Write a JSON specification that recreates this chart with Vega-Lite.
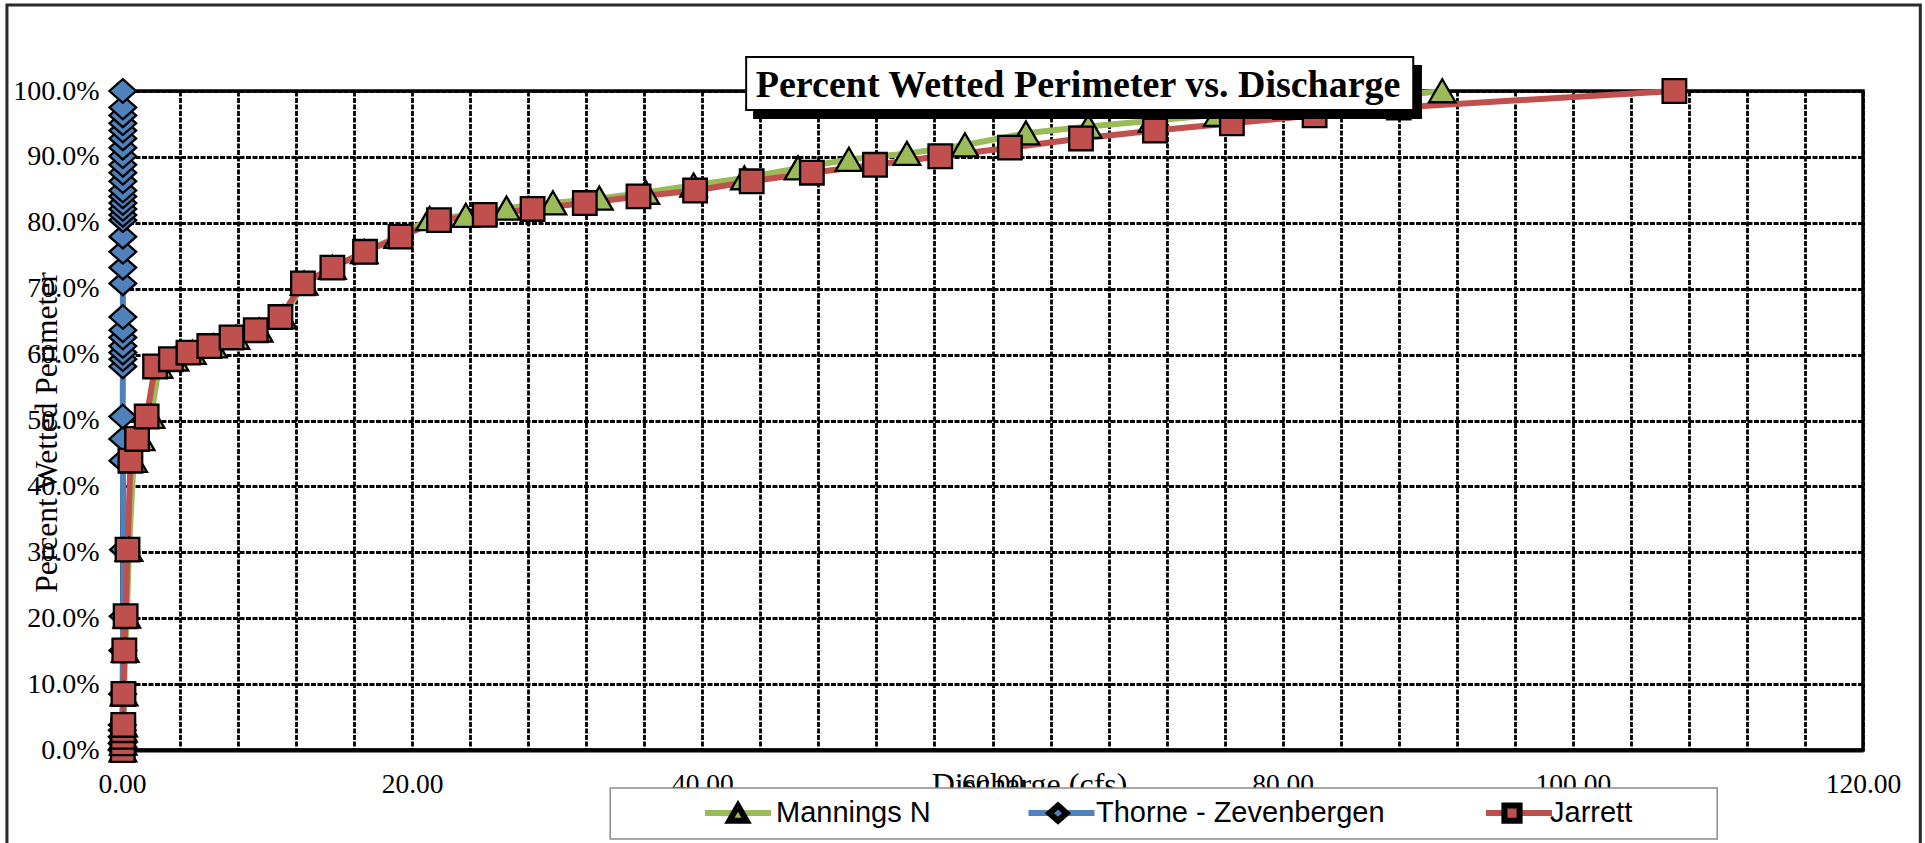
{
  "$schema": "https://vega.github.io/schema/vega-lite/v6.json",
  "width": 1741,
  "height": 659,
  "autosize": "none",
  "padding": {"left": 122, "top": 91, "right": 62, "bottom": 93},
  "background": "white",
  "config": {"view": {"stroke": "black", "strokeWidth": 3.5}, "font": "Liberation Serif"},
  "datasets": {
    "curves": [
      {"series": "Mannings N", "q": 0.06, "p": 0},
      {"series": "Mannings N", "q": 0.08, "p": 0.010},
      {"series": "Mannings N", "q": 0.09, "p": 0.020},
      {"series": "Mannings N", "q": 0.10, "p": 0.030},
      {"series": "Mannings N", "q": 0.11, "p": 0.038},
      {"series": "Mannings N", "q": 0.14, "p": 0.085},
      {"series": "Mannings N", "q": 0.22, "p": 0.151},
      {"series": "Mannings N", "q": 0.33, "p": 0.203},
      {"series": "Mannings N", "q": 0.48, "p": 0.304},
      {"series": "Mannings N", "q": 0.80, "p": 0.439},
      {"series": "Mannings N", "q": 1.32, "p": 0.472},
      {"series": "Mannings N", "q": 2.00, "p": 0.506},
      {"series": "Mannings N", "q": 2.55, "p": 0.582},
      {"series": "Mannings N", "q": 3.65, "p": 0.593},
      {"series": "Mannings N", "q": 4.85, "p": 0.603},
      {"series": "Mannings N", "q": 6.30, "p": 0.613},
      {"series": "Mannings N", "q": 7.85, "p": 0.626},
      {"series": "Mannings N", "q": 9.45, "p": 0.637},
      {"series": "Mannings N", "q": 11.10, "p": 0.657},
      {"series": "Mannings N", "q": 12.55, "p": 0.708},
      {"series": "Mannings N", "q": 14.50, "p": 0.732},
      {"series": "Mannings N", "q": 16.70, "p": 0.756},
      {"series": "Mannings N", "q": 19.00, "p": 0.779},
      {"series": "Mannings N", "q": 21.20, "p": 0.806},
      {"series": "Mannings N", "q": 23.70, "p": 0.811},
      {"series": "Mannings N", "q": 26.50, "p": 0.822},
      {"series": "Mannings N", "q": 29.70, "p": 0.830},
      {"series": "Mannings N", "q": 32.90, "p": 0.837},
      {"series": "Mannings N", "q": 36.10, "p": 0.846},
      {"series": "Mannings N", "q": 39.40, "p": 0.857},
      {"series": "Mannings N", "q": 42.90, "p": 0.868},
      {"series": "Mannings N", "q": 46.60, "p": 0.883},
      {"series": "Mannings N", "q": 50.10, "p": 0.896},
      {"series": "Mannings N", "q": 54.10, "p": 0.905},
      {"series": "Mannings N", "q": 58.10, "p": 0.918},
      {"series": "Mannings N", "q": 62.30, "p": 0.936},
      {"series": "Mannings N", "q": 66.60, "p": 0.946},
      {"series": "Mannings N", "q": 71.00, "p": 0.955},
      {"series": "Mannings N", "q": 75.50, "p": 0.964},
      {"series": "Mannings N", "q": 80.30, "p": 0.975},
      {"series": "Mannings N", "q": 91.00, "p": 1.000},
      {"series": "Thorne - Zevenbergen", "q": 0.00, "p": 0},
      {"series": "Thorne - Zevenbergen", "q": 0.01, "p": 0.010},
      {"series": "Thorne - Zevenbergen", "q": 0.01, "p": 0.020},
      {"series": "Thorne - Zevenbergen", "q": 0.02, "p": 0.030},
      {"series": "Thorne - Zevenbergen", "q": 0.02, "p": 0.038},
      {"series": "Thorne - Zevenbergen", "q": 0.04, "p": 0.085},
      {"series": "Thorne - Zevenbergen", "q": 0.06, "p": 0.151},
      {"series": "Thorne - Zevenbergen", "q": 0.08, "p": 0.203},
      {"series": "Thorne - Zevenbergen", "q": 0.10, "p": 0.304},
      {"series": "Thorne - Zevenbergen", "q": 0.06, "p": 0.439},
      {"series": "Thorne - Zevenbergen", "q": 0.05, "p": 0.472},
      {"series": "Thorne - Zevenbergen", "q": 0.05, "p": 0.506},
      {"series": "Thorne - Zevenbergen", "q": 0.06, "p": 0.582},
      {"series": "Thorne - Zevenbergen", "q": 0.06, "p": 0.593},
      {"series": "Thorne - Zevenbergen", "q": 0.06, "p": 0.603},
      {"series": "Thorne - Zevenbergen", "q": 0.06, "p": 0.613},
      {"series": "Thorne - Zevenbergen", "q": 0.06, "p": 0.626},
      {"series": "Thorne - Zevenbergen", "q": 0.06, "p": 0.637},
      {"series": "Thorne - Zevenbergen", "q": 0.06, "p": 0.657},
      {"series": "Thorne - Zevenbergen", "q": 0.06, "p": 0.708},
      {"series": "Thorne - Zevenbergen", "q": 0.06, "p": 0.732},
      {"series": "Thorne - Zevenbergen", "q": 0.06, "p": 0.756},
      {"series": "Thorne - Zevenbergen", "q": 0.06, "p": 0.779},
      {"series": "Thorne - Zevenbergen", "q": 0.06, "p": 0.804},
      {"series": "Thorne - Zevenbergen", "q": 0.06, "p": 0.812},
      {"series": "Thorne - Zevenbergen", "q": 0.06, "p": 0.821},
      {"series": "Thorne - Zevenbergen", "q": 0.06, "p": 0.830},
      {"series": "Thorne - Zevenbergen", "q": 0.06, "p": 0.840},
      {"series": "Thorne - Zevenbergen", "q": 0.06, "p": 0.849},
      {"series": "Thorne - Zevenbergen", "q": 0.06, "p": 0.863},
      {"series": "Thorne - Zevenbergen", "q": 0.06, "p": 0.876},
      {"series": "Thorne - Zevenbergen", "q": 0.06, "p": 0.888},
      {"series": "Thorne - Zevenbergen", "q": 0.06, "p": 0.901},
      {"series": "Thorne - Zevenbergen", "q": 0.06, "p": 0.914},
      {"series": "Thorne - Zevenbergen", "q": 0.06, "p": 0.928},
      {"series": "Thorne - Zevenbergen", "q": 0.06, "p": 0.940},
      {"series": "Thorne - Zevenbergen", "q": 0.06, "p": 0.951},
      {"series": "Thorne - Zevenbergen", "q": 0.06, "p": 0.963},
      {"series": "Thorne - Zevenbergen", "q": 0.06, "p": 0.975},
      {"series": "Thorne - Zevenbergen", "q": 0.05, "p": 1.000},
      {"series": "Jarrett", "q": 0.05, "p": 0},
      {"series": "Jarrett", "q": 0.06, "p": 0.010},
      {"series": "Jarrett", "q": 0.07, "p": 0.020},
      {"series": "Jarrett", "q": 0.08, "p": 0.030},
      {"series": "Jarrett", "q": 0.09, "p": 0.038},
      {"series": "Jarrett", "q": 0.10, "p": 0.085},
      {"series": "Jarrett", "q": 0.16, "p": 0.151},
      {"series": "Jarrett", "q": 0.25, "p": 0.203},
      {"series": "Jarrett", "q": 0.38, "p": 0.304},
      {"series": "Jarrett", "q": 0.58, "p": 0.439},
      {"series": "Jarrett", "q": 1.04, "p": 0.472},
      {"series": "Jarrett", "q": 1.70, "p": 0.506},
      {"series": "Jarrett", "q": 2.28, "p": 0.582},
      {"series": "Jarrett", "q": 3.37, "p": 0.593},
      {"series": "Jarrett", "q": 4.58, "p": 0.603},
      {"series": "Jarrett", "q": 6.02, "p": 0.613},
      {"series": "Jarrett", "q": 7.55, "p": 0.626},
      {"series": "Jarrett", "q": 9.22, "p": 0.637},
      {"series": "Jarrett", "q": 10.92, "p": 0.657},
      {"series": "Jarrett", "q": 12.47, "p": 0.708},
      {"series": "Jarrett", "q": 14.50, "p": 0.732},
      {"series": "Jarrett", "q": 16.75, "p": 0.756},
      {"series": "Jarrett", "q": 19.20, "p": 0.779},
      {"series": "Jarrett", "q": 21.85, "p": 0.804},
      {"series": "Jarrett", "q": 25.00, "p": 0.812},
      {"series": "Jarrett", "q": 28.30, "p": 0.821},
      {"series": "Jarrett", "q": 31.90, "p": 0.830},
      {"series": "Jarrett", "q": 35.60, "p": 0.840},
      {"series": "Jarrett", "q": 39.50, "p": 0.849},
      {"series": "Jarrett", "q": 43.40, "p": 0.863},
      {"series": "Jarrett", "q": 47.55, "p": 0.876},
      {"series": "Jarrett", "q": 51.90, "p": 0.888},
      {"series": "Jarrett", "q": 56.40, "p": 0.901},
      {"series": "Jarrett", "q": 61.20, "p": 0.914},
      {"series": "Jarrett", "q": 66.10, "p": 0.928},
      {"series": "Jarrett", "q": 71.20, "p": 0.940},
      {"series": "Jarrett", "q": 76.50, "p": 0.951},
      {"series": "Jarrett", "q": 82.20, "p": 0.963},
      {"series": "Jarrett", "q": 88.00, "p": 0.975},
      {"series": "Jarrett", "q": 107.00, "p": 1.000}
    ]
  },
  "layer": [
    {
      "data": {"name": "curves"},
      "mark": {"type": "line", "strokeWidth": 6, "strokeJoin": "round", "clip": false},
      "encoding": {
        "x": {
          "field": "q", "type": "quantitative",
          "scale": {"domain": [0, 120], "nice": false, "zero": false},
          "axis": {
            "values": [0, 4, 8, 12, 16, 20, 24, 28, 32, 36, 40, 44, 48, 52, 56, 60, 64, 68, 72, 76, 80, 84, 88, 92, 96, 100, 104, 108, 112, 116, 120],
            "labelExpr": "datum.value % 20 == 0 ? format(datum.value, '.2f') : ''",
            "title": "Discharge (cfs)",
            "grid": true, "gridColor": "black", "gridWidth": 2.8, "gridDash": [5, 1.5],
            "ticks": false, "domain": true, "domainColor": "black", "domainWidth": 4,
            "labelFont": "Liberation Serif", "labelFontSize": 27.5, "labelColor": "black", "labelPadding": 20,
            "labelFlush": false, "labelOverlap": false, "labelBound": false,
            "titleFont": "Liberation Serif", "titleFontSize": 32, "titleFontWeight": "normal", "titleColor": "black",
            "titleX": 907, "titleY": 44, "titleBaseline": "alphabetic", "titleAlign": "center"
          }
        },
        "y": {
          "field": "p", "type": "quantitative",
          "scale": {"domain": [0, 1], "nice": false},
          "axis": {
            "values": [0, 0.1, 0.2, 0.3, 0.4, 0.5, 0.6, 0.7, 0.8, 0.9, 1.0],
            "format": ".1%",
            "title": "Percent Wetted Perimeter",
            "grid": true, "gridColor": "black", "gridWidth": 2.8, "gridDash": [5, 1.5],
            "ticks": false, "domain": true, "domainColor": "black", "domainWidth": 3,
            "labelFont": "Liberation Serif", "labelFontSize": 28, "labelColor": "black", "labelPadding": 23,
            "labelFlush": false, "labelOverlap": false, "labelBound": false,
            "titleFont": "Liberation Serif", "titleFontSize": 31.5, "titleFontWeight": "normal", "titleColor": "black",
            "titleAngle": -90, "titleX": -66, "titleY": 341, "titleBaseline": "alphabetic", "titleAlign": "center"
          }
        },
        "stroke": {
          "field": "series", "type": "nominal",
          "sort": ["Mannings N", "Thorne - Zevenbergen", "Jarrett"],
          "scale": {"range": ["#9BBB59", "#4F81BD", "#C0504D"]},
          "legend": {
            "orient": "none", "legendX": 580, "legendY": 686, "direction": "horizontal", "title": null,
            "padding": 0, "columnPadding": 85.5, "symbolType": "stroke", "symbolSize": 4356, "symbolStrokeWidth": 6,
            "labelFont": "Liberation Sans", "labelFontSize": 29, "labelOffset": 2, "labelLimit": 500, "labelOpacity": 0, "zindex": 1
          }
        },
        "order": {"field": "p", "type": "quantitative"}
      }
    },
    {
      "data": {"name": "curves"},
      "mark": {"type": "point", "filled": true, "opacity": 1, "stroke": "black", "strokeWidth": 2.3, "size": 10500, "clip": false},
      "encoding": {
        "x": {"field": "q", "type": "quantitative"},
        "y": {"field": "p", "type": "quantitative"},
        "fill": {
          "field": "series", "type": "nominal",
          "scale": {"domain": ["Mannings N", "Thorne - Zevenbergen", "Jarrett"], "range": ["#9BBB59", "#4F81BD", "#C0504D"]},
          "legend": {
            "orient": "none", "legendX": 580, "legendY": 686, "direction": "horizontal", "title": null,
            "padding": 0, "columnPadding": 91, "symbolSize": 4356, "symbolStrokeWidth": 6, "symbolOpacity": 1,
            "labelFont": "Liberation Sans", "labelFontSize": 29, "labelOffset": 2, "labelLimit": 500, "labelColor": "black", "zindex": 2,
            "encode": {"symbols": {"update": {"stroke": {"value": "black"}, "strokeWidth": {"value": 1.6}}}}
          }
        },
        "shape": {
          "field": "series", "type": "nominal",
          "scale": {
            "domain": ["Mannings N", "Thorne - Zevenbergen", "Jarrett"],
            "range": ["M0,-0.23L0.26,0.22L-0.26,0.22Z", "M0,-0.23L0.26,0L0,0.23L-0.26,0Z", "M-0.23,-0.23H0.23V0.23H-0.23Z"]
          },
          "legend": {
            "orient": "none", "legendX": 580, "legendY": 686, "direction": "horizontal", "title": null,
            "padding": 0, "columnPadding": 91, "symbolSize": 4356, "symbolStrokeWidth": 6, "symbolOpacity": 1,
            "labelFont": "Liberation Sans", "labelFontSize": 29, "labelOffset": 2, "labelLimit": 500, "labelColor": "black", "zindex": 2,
            "encode": {"symbols": {"update": {"stroke": {"value": "black"}, "strokeWidth": {"value": 1.6}}}}
          }
        }
      }
    },
    {
      "data": {"values": [{}]},
      "mark": {"type": "rect", "fill": "transparent", "stroke": "#2a2a2a", "strokeWidth": 3, "clip": false},
      "encoding": {
        "x": {"datum": -7.93, "type": "quantitative"},
        "x2": {"datum": 123.95},
        "y": {"datum": 1.1305, "type": "quantitative"},
        "y2": {"datum": -0.2}
      }
    },
    {
      "data": {"values": [{}]},
      "mark": {"type": "rect", "fill": "white", "stroke": "#8c8c8c", "strokeWidth": 1.5, "clip": false},
      "encoding": {
        "x": {"datum": 33.65, "type": "quantitative"},
        "x2": {"datum": 109.95},
        "y": {"datum": -0.0577, "type": "quantitative"},
        "y2": {"datum": -0.135}
      }
    },
    {
      "data": {"values": [{}]},
      "mark": {"type": "rect", "fill": "black", "clip": false},
      "encoding": {
        "x": {"datum": 43.5, "type": "quantitative"},
        "x2": {"datum": 89.6},
        "y": {"datum": 1.0395, "type": "quantitative"},
        "y2": {"datum": 0.9575}
      }
    },
    {
      "data": {"values": [{}]},
      "mark": {"type": "rect", "fill": "white", "stroke": "black", "strokeWidth": 2, "clip": false},
      "encoding": {
        "x": {"datum": 43.02, "type": "quantitative"},
        "x2": {"datum": 89.0},
        "y": {"datum": 1.0516, "type": "quantitative"},
        "y2": {"datum": 0.9712}
      }
    },
    {
      "data": {"values": [{"t": "Percent Wetted Perimeter vs. Discharge"}]},
      "mark": {"type": "text", "font": "Liberation Serif", "fontWeight": "bold", "fontSize": 38, "align": "center", "baseline": "alphabetic", "color": "black", "clip": false},
      "encoding": {
        "x": {"datum": 65.9, "type": "quantitative"},
        "y": {"datum": 0.991, "type": "quantitative"},
        "text": {"field": "t", "type": "nominal"}
      }
    }
  ]
}
